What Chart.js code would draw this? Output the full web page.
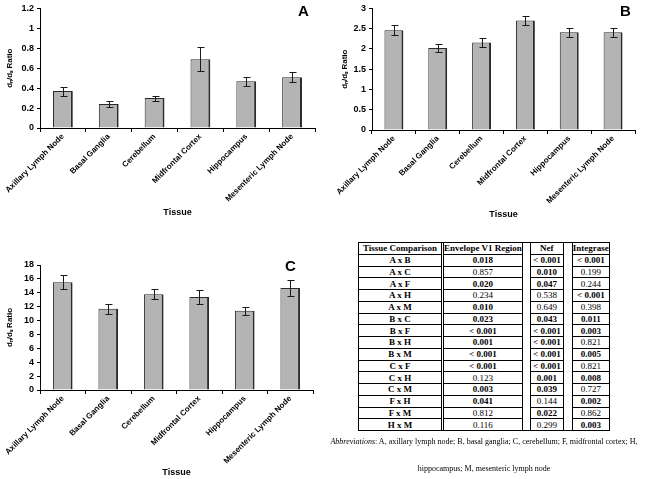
<!DOCTYPE html>
<html>
<head>
<meta charset="utf-8">
<script src="https://cdn.jsdelivr.net/npm/chart.js@4.4.0/dist/chart.umd.min.js"></script>
<style>
	body { margin: 0; background: #fff; width: 650px; height: 479px; position: relative; overflow: hidden; }
	canvas { position: absolute; }
	.letter { position: absolute; font: bold 15px "Liberation Sans", Arial, sans-serif; color: #000; }
	#pvals { position: absolute; left: 358px; top: 242px; border-collapse: collapse; table-layout: fixed; font-family: "Liberation Serif", "Times New Roman", serif; font-size: 9px; color: #000; }
	#pvals td { border: 1px solid #000; height: 10.75px; padding: 0; text-align: center; line-height: 10px; white-space: nowrap; }
	#pvals td.gap { border-top: none; border-bottom: none; }
	#pvals tr:first-child td.gap { border-top: 1px solid #000; }
	#pvals tr:last-child td.gap { border-bottom: 1px solid #000; }
	#pvals .b { font-weight: bold; }
	#abbrev { position: absolute; left: 284px; top: 428px; width: 400px; text-align: center; font: 8px/27px "Liberation Serif", "Times New Roman", serif; white-space: nowrap; color: #000; }
</style>
</head>
<body>
<canvas id="chartA" width="320" height="220" style="left:0px;top:0px"></canvas>
<canvas id="chartB" width="315" height="222" style="left:325px;top:0px"></canvas>
<canvas id="chartC" width="320" height="240" style="left:0px;top:240px"></canvas>
<div class="letter" style="left:298px;top:2px">A</div>
<div class="letter" style="left:620px;top:2px">B</div>
<div class="letter" style="left:285px;top:257px">C</div>
<table id="pvals"></table>
<div id="abbrev"><i>Abbreviations</i>: A, axillary lymph node; B, basal ganglia; C, cerebellum; F, midfrontal cortex; H,<br>hippocampus; M, mesenteric lymph node</div>
<script>
const tissues = ['Axillary Lymph Node', 'Basal Ganglia', 'Cerebellum', 'Midfrontal Cortex', 'Hippocampus', 'Mesenteric Lymph Node']

const ratiosA = [0.37, 0.24, 0.30, 0.69, 0.47, 0.51]
const errorsA = [0.045, 0.03, 0.025, 0.12, 0.045, 0.05]
const ratiosB = [2.46, 2.02, 2.16, 2.70, 2.41, 2.41]
const errorsB = [0.12, 0.1, 0.11, 0.12, 0.11, 0.11]
const ratiosC = [15.5, 11.7, 13.8, 13.4, 11.4, 14.7]
const errorsC = [1.0, 0.7, 0.75, 1.05, 0.6, 1.1]

const tableHeader = ['Tissue Comparison', 'Envelope V1 Region', 'Nef', 'Integrase']
const comparisons = ['A x B', 'A x C', 'A x F', 'A x H', 'A x M', 'B x C', 'B x F', 'B x H', 'B x M', 'C x F', 'C x H', 'C x M', 'F x H', 'F x M', 'H x M']
const pEnvelope = ['0.018', '0.857', '0.020', '0.234', '0.010', '0.023', '< 0.001', '0.001', '< 0.001', '< 0.001', '0.123', '0.003', '0.041', '0.812', '0.116']
const pNef = ['< 0.001', '0.010', '0.047', '0.538', '0.649', '0.043', '< 0.001', '< 0.001', '< 0.001', '< 0.001', '0.001', '0.039', '0.144', '0.022', '0.299']
const pIntegrase = ['< 0.001', '0.199', '0.244', '< 0.001', '0.398', '0.011', '0.003', '0.821', '0.005', '0.821', '0.008', '0.727', '0.002', '0.862', '0.003']

const FONT = '"Liberation Sans", Arial, sans-serif'

// error bars drawn on top of the bars, from the y scale
const errorBars = {
	id: 'errorBars',
	afterDatasetsDraw(chart, args, opts) {
		const ctx = chart.ctx
		const y = chart.scales.y
		const values = chart.data.datasets[0].data
		ctx.save()
		ctx.strokeStyle = '#1a1a1a'
		ctx.lineWidth = 1
		chart.getDatasetMeta(0).data.forEach((bar, i) => {
			const hi = Math.round(y.getPixelForValue(values[i] + opts.errors[i])) + 0.5
			const lo = Math.round(y.getPixelForValue(values[i] - opts.errors[i])) + 0.5
			const x = Math.round(bar.x) + 0.5
			ctx.beginPath()
			ctx.moveTo(x, hi)
			ctx.lineTo(x, lo)
			ctx.moveTo(x - 3, hi)
			ctx.lineTo(x + 4, hi)
			ctx.moveTo(x - 3, lo)
			ctx.lineTo(x + 4, lo)
			ctx.stroke()
		})
		ctx.restore()
	},
}

function renderRatioChart(canvasId, values, errors, yMax, yStep, box) {
	const ctx = document.getElementById(canvasId).getContext('2d')
	return new Chart(ctx, {
		type: 'bar',
		data: {
			labels: tissues,
			datasets: [
				{
					data: values,
					backgroundColor: '#b4b4b4',
					borderColor: '#2a2a2a',
					borderWidth: { left: 1, top: 1, right: 2, bottom: 0 },
					barPercentage: 0.9,
					categoryPercentage: 0.48,
				},
			],
		},
		options: {
			responsive: false,
			animation: false,
			devicePixelRatio: 1,
			layout: {
				padding: { top: box.top, right: box.right, left: 0, bottom: 0 },
			},
			plugins: {
				legend: { display: false },
				tooltip: { enabled: false },
				errorBars: { errors: errors },
			},
			scales: {
				x: {
					afterFit(scale) {
						scale.height = box.xHeight
					},
					grid: { drawOnChartArea: false, tickLength: 4, color: '#000', offset: true },
					border: { color: '#000' },
					ticks: {
						autoSkip: false,
						minRotation: 45,
						maxRotation: 45,
						padding: 0,
						color: '#000',
						font: { family: FONT, size: 8, weight: 'bold' },
					},
					title: {
						display: true,
						text: 'Tissue',
						color: '#000',
						padding: { top: 0, bottom: 2 },
						font: { family: FONT, size: 9, weight: 'bold' },
					},
				},
				y: {
					min: 0,
					max: yMax,
					afterFit(scale) {
						scale.width = box.yWidth
					},
					grid: { drawOnChartArea: false, tickLength: 3, color: '#000' },
					border: { color: '#000' },
					ticks: {
						stepSize: yStep,
						padding: 3,
						color: '#000',
						font: { family: FONT, size: 9, weight: 'bold' },
						callback: v => String(Number(v.toFixed(2))),
					},
					title: {
						display: true,
						text: 'dₙ/dₛ Ratio',
						color: '#000',
						padding: { top: box.titleLeft, bottom: 0 },
						font: { family: FONT, size: 8, weight: 'bold' },
					},
				},
			},
		},
		plugins: [errorBars],
	})
}

renderRatioChart('chartA', ratiosA, errorsA, 1.2, 0.2, { top: 5, right: 5, xHeight: 92, yWidth: 40, titleLeft: 5 })
renderRatioChart('chartB', ratiosB, errorsB, 3, 0.5, { top: 6, right: 5, xHeight: 92, yWidth: 47, titleLeft: 15 })
renderRatioChart('chartC', ratiosC, errorsC, 18, 2, { top: 25, right: 7, xHeight: 90, yWidth: 40, titleLeft: 5 })

// p-value table
function isSignificant(p) {
	return p.indexOf('<') === 0 || parseFloat(p) < 0.05
}
const colWidths = [83, 2, 78, 8, 33, 9, 37]
const table = document.getElementById('pvals')
let html = '<colgroup>' + colWidths.map(w => '<col style="width:' + w + 'px">').join('') + '</colgroup>'
html += '<tr class="b"><td>' + tableHeader[0] + '</td><td class="gap"></td><td>' + tableHeader[1] +
	'</td><td class="gap"></td><td>' + tableHeader[2] + '</td><td class="gap"></td><td>' + tableHeader[3] + '</td></tr>'
comparisons.forEach((c, i) => {
	const cell = p => '<td' + (isSignificant(p) ? ' class="b"' : '') + '>' + p + '</td>'
	html += '<tr><td class="b">' + c + '</td><td class="gap"></td>' + cell(pEnvelope[i]) +
		'<td class="gap"></td>' + cell(pNef[i]) + '<td class="gap"></td>' + cell(pIntegrase[i]) + '</tr>'
})
table.innerHTML = html
</script>
</body>
</html>
